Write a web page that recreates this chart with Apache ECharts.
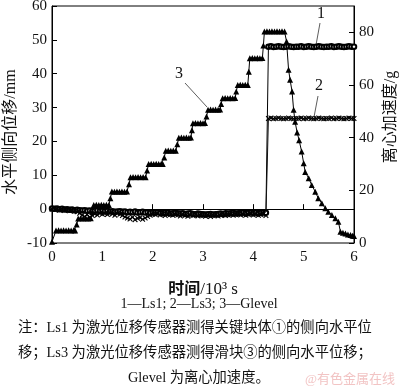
<!DOCTYPE html>
<html><head><meta charset="utf-8">
<script src="https://cdn.jsdelivr.net/npm/echarts@6/dist/echarts.min.js"></script>
<style>html,body{margin:0;padding:0;background:#fff}#c{width:400px;height:389px}</style>
</head><body><div id="c"></div>
<script>
// time grid (10^3 s) shared by Ls1 and Ls3
const lsTime = [0,0.05,0.1,0.15,0.2,0.25,0.3,0.35,0.4,0.45,0.5,
0.55,0.6,0.65,0.7,0.75,0.8,0.85,0.9,0.95,1.0,
1.05,1.1,1.15,1.2,1.25,1.3,1.35,1.4,1.45,1.5,
1.55,1.6,1.65,1.7,1.75,1.8,1.85,1.9,1.95,2.0,
2.05,2.1,2.15,2.2,2.25,2.3,2.35,2.4,2.45,2.5,
2.55,2.6,2.65,2.7,2.75,2.8,2.85,2.9,2.95,3.0,
3.05,3.1,3.15,3.2,3.25,3.3,3.35,3.4,3.45,3.5,
3.55,3.6,3.65,3.7,3.75,3.8,3.85,3.9,3.95,4.0,
4.05,4.1,4.15,4.2,4.25,
4.3,4.35,4.4,4.45,4.5,4.55,4.6,4.65,4.7,4.75,4.8,4.85,4.9,4.95,5.0,
5.05,5.1,5.15,5.2,5.25,5.3,5.35,5.4,5.45,5.5,5.55,5.6,5.65,5.7,5.75,5.8,5.85,5.9,5.95,6.0];

// 1 — Ls1 lateral displacement (mm)
const ls1 = [0.2,0.1,0.2,0.0,0.1,-0.1,0.0,-0.2,-0.1,-0.3,-0.2,
-0.3,-0.4,-0.3,-0.5,-0.4,-0.6,-0.5,-0.4,-0.6,-0.5,
-0.6,-0.5,-0.7,-0.6,-0.8,-0.7,-0.6,-0.8,-0.7,-0.9,
-0.8,-0.9,-0.7,-1.0,-0.9,-0.8,-1.0,-0.9,-1.1,-1.0,
-1.0,-0.9,-1.1,-1.2,-1.0,-1.1,-1.3,-1.2,-1.1,-1.2,
-1.3,-1.2,-1.4,-1.3,-1.2,-1.4,-1.5,-1.3,-1.4,-1.5,
-1.6,-1.5,-1.4,-1.6,-1.5,-1.4,-1.3,-1.4,-1.2,-1.3,
-1.2,-1.1,-1.3,-1.2,-1.1,-1.0,-1.2,-1.1,-1.0,-1.1,
-1.0,-1.2,-1.1,-1.0,-1.1,
48.0,48.1,47.9,48.0,48.1,48.0,47.9,48.0,48.1,48.0,47.9,48.0,48.0,48.1,47.9,
48.0,48.1,48.0,47.9,48.0,48.1,48.0,47.9,48.0,48.0,48.1,47.9,48.0,48.1,48.0,
47.9,48.0,48.1,48.0,48.0];

// 2 — Ls3 lateral displacement (mm)
const ls3 = [0.0,-0.2,0.1,-0.3,-0.1,-0.4,-0.2,-0.5,-0.3,-0.6,-0.8,
-1.2,-1.8,-2.2,-1.6,-2.4,-1.9,-1.4,-1.7,-1.2,-1.5,
-1.3,-1.6,-1.1,-1.4,-1.8,-1.2,-1.5,-1.9,-2.3,-2.6,
-2.9,-2.4,-3.1,-2.7,-2.5,-3.0,-2.6,-2.2,-1.8,-1.5,
-1.6,-1.3,-1.7,-1.5,-1.9,-1.4,-1.6,-1.8,-1.5,-1.7,
-2.0,-1.6,-1.8,-2.1,-1.7,-1.9,-1.6,-2.0,-1.8,-1.9,
-2.1,-1.8,-2.2,-1.9,-1.7,-2.0,-1.8,-1.6,-1.9,-1.7,
-1.5,-1.8,-1.6,-1.4,-1.7,-1.5,-1.8,-1.6,-1.4,-1.7,
-1.5,-1.8,-1.6,-1.4,-1.9,
26.8,26.9,26.7,26.8,26.9,26.8,26.7,26.8,26.9,26.8,26.7,26.8,26.8,26.9,26.7,
26.8,26.9,26.8,26.7,26.8,26.9,26.8,26.7,26.8,26.8,26.9,26.7,26.8,26.9,26.8,
26.7,26.8,26.9,26.8,26.8];

// 3 — Glevel centrifugal acceleration (g): time and value
const gTime = [0,0.08,0.13,0.18,0.23,0.28,0.33,0.38,0.43,0.46,
0.49,0.52,0.57,0.62,0.67,0.72,0.77,
0.8,0.83,0.88,0.93,0.98,1.03,1.08,1.13,
1.16,1.19,1.24,1.29,1.34,1.39,1.44,1.49,
1.53,1.56,1.61,1.66,1.71,1.76,1.81,1.86,
1.89,1.92,1.97,2.02,2.07,2.12,2.17,2.2,
2.23,2.26,2.31,2.36,2.41,2.46,
2.49,2.52,2.57,2.62,2.67,2.72,2.76,
2.78,2.8,2.85,2.9,2.95,3.0,3.04,
3.07,3.1,3.15,3.2,3.25,3.3,3.34,
3.36,3.39,3.44,3.49,3.54,3.59,3.64,
3.66,3.69,3.74,3.79,3.84,3.89,
3.91,3.93,3.98,4.03,4.08,4.13,4.18,
4.2,4.22,4.27,4.32,4.37,4.42,4.47,4.52,4.57,4.62,
4.66,4.7,4.73,4.77,4.8,4.83,4.87,4.91,4.96,5.0,5.03,5.1,5.16,5.23,5.29,5.36,5.43,5.49,5.56,5.63,5.69,5.73,5.78,5.83,5.88,5.93,5.97,6.0];
const gLevel = [0.5,4.7,4.8,4.7,4.8,4.7,4.8,4.7,4.8,4.7,
7.0,9.3,9.4,9.3,9.4,9.3,9.4,
11.8,14.4,14.5,14.4,14.5,14.4,14.5,14.4,
17.0,19.6,19.5,19.6,19.5,19.6,19.5,19.6,
22.3,25.0,25.1,25.0,25.1,25.0,25.1,25.0,
27.5,30.0,30.1,30.0,30.1,30.0,30.1,30.0,
32.5,35.0,35.1,35.0,35.1,35.0,
37.5,40.0,40.1,40.0,40.1,40.0,40.1,
42.8,45.5,45.6,45.5,45.6,45.5,45.6,
48.0,50.6,50.7,50.6,50.7,50.6,50.7,
52.8,55.0,55.1,55.0,55.1,55.0,55.1,
57.5,60.0,60.1,60.0,60.1,60.0,
65.0,70.2,70.3,70.2,70.3,70.2,70.3,
75.0,80.3,80.4,80.3,80.4,80.3,80.4,80.3,80.4,80.3,
76.5,65.8,62.0,57.5,50.6,46.0,42.0,39.0,34.7,30.3,27.0,24.6,22.0,19.5,17.0,15.1,13.2,11.9,10.6,9.4,8.1,4.3,3.9,3.6,3.2,3.0,2.8,2.7];

const xTicks = [0,1,2,3,4,5,6];

const SERIF = "'Liberation Serif','Noto Sans CJK SC',serif";
const pair = (xs, ys) => xs.map((x, i) => [x, ys[i]]);
const XMARK = 'path://M0,1.4L1.4,0L5,3.6L8.6,0L10,1.4L6.4,5L10,8.6L8.6,10L5,6.4L1.4,10L0,8.6L3.6,5Z';

const chart = echarts.init(document.getElementById('c'), null, {renderer: 'canvas'});
chart.setOption({
  animation: false,
  backgroundColor: '#fff',
  grid: {left: 52, right: 46, top: 6, bottom: 146, containLabel: false, outerBoundsMode: 'none',
    show: true, borderColor: '#000', borderWidth: 1, backgroundColor: 'transparent'},
  xAxis: {
    type: 'value', min: 0, max: 6, interval: 1,
    name: '{b|时间}{n|/10³ s}', nameLocation: 'middle', nameGap: 38,
    nameTextStyle: {rich: {
      b: {fontFamily: SERIF, fontSize: 16, fontWeight: 'bold', color: '#111'},
      n: {fontFamily: SERIF, fontSize: 17, color: '#111'}}},
    axisLine: {lineStyle: {color: '#000', width: 1}},
    axisTick: {inside: true, length: 5, lineStyle: {color: '#000'}},
    axisLabel: {margin: 7, fontFamily: SERIF, fontSize: 15, color: '#111',
      formatter: v => xTicks.includes(v) ? String(v) : ''},
    splitLine: {show: false}
  },
  yAxis: [{
    type: 'value', min: -10, max: 60, interval: 10, position: 'left',
    axisLine: {show: true, lineStyle: {color: '#000', width: 1}},
    axisTick: {inside: true, length: 5, lineStyle: {color: '#000'}},
    axisLabel: {margin: 5, fontFamily: SERIF, fontSize: 15, color: '#111'},
    splitLine: {show: false}
  }, {
    type: 'value', min: 0, max: 90, interval: 20, position: 'right',
    axisLine: {show: true, lineStyle: {color: '#000', width: 1}},
    axisTick: {inside: true, length: 5, lineStyle: {color: '#000'}},
    axisLabel: {margin: 5, fontFamily: SERIF, fontSize: 15, color: '#111', showMaxLabel: false,
      formatter: v => (v % 20 === 0 ? String(v) : '')},
    splitLine: {show: false}
  }],
  series: [{
    name: 'Ls1', type: 'line', yAxisIndex: 0, data: pair(lsTime, ls1),
    symbol: 'emptyCircle', symbolSize: 4.5, showAllSymbol: true,
    lineStyle: {color: '#000', width: 1}, itemStyle: {color: '#000', borderColor: '#000', borderWidth: 1.3}
  }, {
    name: 'Ls3', type: 'line', yAxisIndex: 0, data: pair(lsTime, ls3),
    symbol: XMARK, symbolSize: 5.5, showAllSymbol: true,
    lineStyle: {color: '#111', width: 1}, itemStyle: {color: '#000'}
  }, {
    name: 'Glevel', type: 'line', yAxisIndex: 1, data: pair(gTime, gLevel),
    symbol: 'triangle', symbolSize: 6, showAllSymbol: true,
    lineStyle: {color: '#000', width: 1}, itemStyle: {color: '#000'}
  }],
  graphic: [
    {type: 'text', x: 11, y: 132, rotation: Math.PI / 2,
      style: {text: '水平侧向位移/mm', font: '16px ' + SERIF, fill: '#111', align: 'center', verticalAlign: 'middle'}},
    {type: 'text', x: 391, y: 117, rotation: Math.PI / 2,
      style: {text: '离心加速度/g', font: '16px ' + SERIF, fill: '#111', align: 'center', verticalAlign: 'middle'}},
    {type: 'text', left: 317, top: 6, style: {text: '1', font: '16px ' + SERIF, fill: '#111'}},
    {type: 'line', shape: {x1: 320, y1: 23, x2: 316, y2: 45}, style: {stroke: '#333', lineWidth: 0.8}},
    {type: 'text', left: 315, top: 78, style: {text: '2', font: '16px ' + SERIF, fill: '#111'}},
    {type: 'line', shape: {x1: 318, y1: 96, x2: 314, y2: 117}, style: {stroke: '#333', lineWidth: 0.8}},
    {type: 'text', left: 175, top: 66, style: {text: '3', font: '16px ' + SERIF, fill: '#111'}},
    {type: 'line', shape: {x1: 185, y1: 83, x2: 207, y2: 107}, style: {stroke: '#333', lineWidth: 0.8}},
    {type: 'text', x: 199, y: 304, style: {text: '1—Ls1; 2—Ls3; 3—Glevel', font: '14px ' + SERIF, fill: '#111', align: 'center', verticalAlign: 'middle'}},
    {type: 'text', x: 18, y: 328, style: {text: '注：Ls1 为激光位移传感器测得关键块体①的侧向水平位', font: '14.3px ' + SERIF, fill: '#111', align: 'left', verticalAlign: 'middle'}},
    {type: 'text', x: 18, y: 353, style: {text: '移；Ls3 为激光位移传感器测得滑块③的侧向水平位移；', font: '14.3px ' + SERIF, fill: '#111', align: 'left', verticalAlign: 'middle'}},
    {type: 'text', x: 128, y: 378, style: {text: 'Glevel 为离心加速度。', font: '14.3px ' + SERIF, fill: '#111', align: 'left', verticalAlign: 'middle'}},
    {type: 'text', x: 305, y: 380, style: {text: '@有色金属在线', font: '13px ' + SERIF, fill: '#f2c4c4', align: 'left', verticalAlign: 'middle'}}
  ]
});
</script>
</body></html>
